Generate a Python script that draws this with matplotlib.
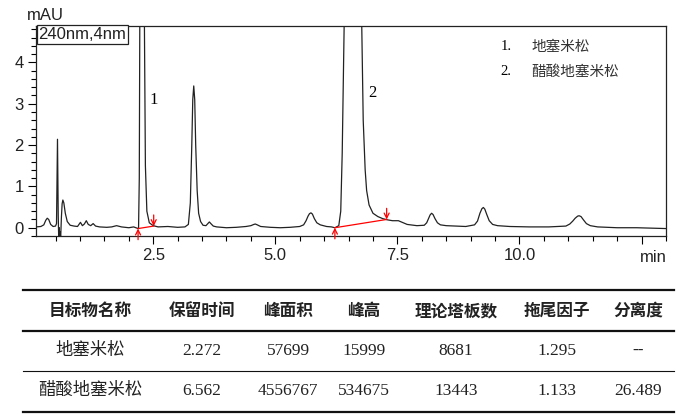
import matplotlib.pyplot as plt
from matplotlib.ticker import MultipleLocator, FixedLocator

# chromatogram trace (time in min, signal in mAU)
time_min = [0.10, 0.20, 0.26, 0.30, 0.33, 0.36, 0.40, 0.45, 0.50, 0.52, 0.54,
            0.555, 0.565, 0.575, 0.585, 0.595, 0.605, 0.615, 0.62, 0.635, 0.65,
            0.67, 0.70, 0.74, 0.80, 0.88, 0.95, 0.98, 1.01, 1.05, 1.09, 1.13,
            1.17, 1.22, 1.27, 1.32, 1.40, 1.55, 1.65, 1.75, 1.85, 2.00, 2.10,
            2.19, 2.20, 2.215, 2.225, 2.25, 2.272, 2.295, 2.32, 2.34, 2.37, 2.42,
            2.50, 2.60, 2.80, 3.00, 3.15, 3.22, 3.26, 3.29, 3.31, 3.33, 3.35,
            3.37, 3.40, 3.43, 3.47, 3.52, 3.58, 3.62, 3.65, 3.68, 3.73, 3.80,
            4.00, 4.20, 4.40, 4.50, 4.56, 4.59, 4.63, 4.70, 4.90, 5.10, 5.30,
            5.50, 5.58, 5.63, 5.67, 5.70, 5.73, 5.76, 5.80, 5.85, 5.92, 6.05,
            6.15, 6.22, 6.30, 6.34, 6.37, 6.41, 6.45, 6.50, 6.562, 6.62, 6.68,
            6.73, 6.77, 6.80, 6.84, 6.87, 6.92, 7.00, 7.10, 7.20, 7.30, 7.40,
            7.47, 7.52, 7.60, 7.70, 7.90, 8.05, 8.10, 8.14, 8.17, 8.20, 8.23,
            8.27, 8.32, 8.38, 8.50, 8.70, 8.90, 9.08, 9.14, 9.19, 9.23, 9.26,
            9.29, 9.33, 9.38, 9.45, 9.55, 9.80, 10.20, 10.60, 10.95, 11.03,
            11.09, 11.14, 11.19, 11.22, 11.26, 11.31, 11.37, 11.45, 11.60,
            12.00, 12.40, 12.70, 13.00]
signal_mau = [0.02, 0.03, 0.07, 0.18, 0.23, 0.20, 0.08, 0.03, 0.04, 0.10, 2.14,
              0.30, -0.25, 0.00, -0.25, -0.10, -0.25, 0.05, 0.25, 0.58, 0.67,
              0.60, 0.35, 0.15, 0.06, 0.04, 0.03, 0.08, 0.13, 0.05, 0.09, 0.17,
              0.08, 0.05, 0.10, 0.04, 0.02, 0.01, 0.02, 0.05, 0.02, 0.00, 0.02,
              -0.02, 0.00, 1.20, 4.90, 13.0, 16.0, 12.0, 4.90, 1.50, 0.40, 0.12,
              0.05, 0.02, 0.03, 0.01, 0.02, 0.08, 0.60, 2.00, 3.10, 3.43, 3.10,
              2.00, 0.90, 0.35, 0.15, 0.06, 0.05, 0.10, 0.14, 0.10, 0.04, 0.02,
              0.00, 0.01, 0.03, 0.05, 0.08, 0.09, 0.07, 0.03, 0.01, 0.00, 0.01,
              0.03, 0.07, 0.17, 0.28, 0.34, 0.36, 0.33, 0.22, 0.12, 0.07, 0.03,
              0.02, 0.00, 0.05, 0.40, 1.80, 4.90, 40.0, 250.0, 535.0, 300.0, 80.0,
              15.0, 4.90, 2.60, 1.40, 0.90, 0.55, 0.35, 0.27, 0.22, 0.19, 0.17,
              0.17, 0.17, 0.13, 0.08, 0.05, 0.06, 0.12, 0.23, 0.31, 0.35, 0.32,
              0.22, 0.12, 0.07, 0.05, 0.04, 0.03, 0.07, 0.16, 0.35, 0.46, 0.49,
              0.45, 0.32, 0.17, 0.08, 0.05, 0.03, 0.02, 0.02, 0.04, 0.09, 0.16,
              0.23, 0.28, 0.29, 0.27, 0.19, 0.10, 0.05, 0.02, 0.00, 0.00, -0.01,
              -0.02]

# integration baselines (start / end of each labelled peak)
base_start_t = [2.19, 6.22]
base_start_v = [-0.02, 0.00]
base_end_t = [2.51, 7.28]
base_end_v = [0.04, 0.20]

peak_labels = ['1', '2']
peak_rt = [2.272, 6.562]

compounds = ['地塞米松', '醋酸地塞米松']

# results table
headers = ['目标物名称', '保留时间', '峰面积', '峰高', '理论塔板数', '拖尾因子', '分离度']
row_1 = ['地塞米松', '2.272', '57699', '15999', '8681', '1.295', '--']
row_2 = ['醋酸地塞米松', '6.562', '4556767', '534675', '13443', '1.133', '26.489']

fig = plt.figure(figsize=(6.82, 4.18), dpi=100)
ax = fig.add_axes([36 / 682, 1 - 236 / 418, 630 / 682, 210 / 418])

ax.plot(time_min, signal_mau, color='#222222', lw=0.9)

for i in range(len(base_start_t)):
    ax.plot([base_start_t[i], base_end_t[i]], [base_start_v[i], base_end_v[i]],
            color='red', lw=0.9)
    ax.annotate('', xy=(base_start_t[i], base_start_v[i]), xytext=(0, -8),
                textcoords='offset points',
                arrowprops=dict(arrowstyle='->', color='red', lw=0.9,
                                mutation_scale=9, shrinkA=0, shrinkB=0))
    ax.annotate('', xy=(base_end_t[i], base_end_v[i]), xytext=(0, 8),
                textcoords='offset points',
                arrowprops=dict(arrowstyle='->', color='red', lw=0.9,
                                mutation_scale=9, shrinkA=0, shrinkB=0))

ax.set_xlim(0.1, 13.0)
ax.set_ylim(-0.2, 4.88)

ax.xaxis.set_major_locator(FixedLocator([2.5, 5.0, 7.5, 10.0, 12.5]))
ax.set_xticklabels(['2.5', '5.0', '7.5', '10.0', ''])
ax.xaxis.set_minor_locator(MultipleLocator(0.5))
ax.yaxis.set_major_locator(MultipleLocator(1))
ax.yaxis.set_minor_locator(MultipleLocator(0.2))
ax.tick_params(which='major', length=6, width=0.8, direction='out', pad=3,
               labelsize=12, labelcolor='#222222')
ax.tick_params(which='minor', length=3.5, width=0.8, direction='out')
for lab in ax.get_xticklabels() + ax.get_yticklabels():
    lab.set_family('Liberation Sans')
for s in ax.spines.values():
    s.set_linewidth(0.9)
    s.set_color('#222222')

fig.text(27 / 682, 1 - 15 / 418, 'mAU', ha='left', va='center', fontsize=12,
         family='Liberation Sans', color='#222222')
fig.text(667 / 682, 1 - 257 / 418, 'min', ha='right', va='center', fontsize=12,
         family='Liberation Sans', color='#222222')

ax.text(0.004, 0.995, '240nm,4nm', transform=ax.transAxes, ha='left', va='top',
        fontsize=12, family='Liberation Sans', color='#222222',
        bbox=dict(boxstyle='square,pad=0.12', fc='white', ec='#222222', lw=0.9))

label_dx = [0.235, 0.43]
label_y = [3.08, 3.25]
for i in range(len(peak_labels)):
    ax.text(peak_rt[i] + label_dx[i], label_y[i], peak_labels[i], ha='center',
            va='center', fontsize=12, family='Liberation Serif')

for i, name in enumerate(compounds):
    yy = 0.901 - i * 0.119
    ax.text(0.737, yy, f'{i + 1}.', transform=ax.transAxes, ha='left', va='center',
            fontsize=10.5, family='Liberation Serif')
    ax.text(0.787, yy, name, transform=ax.transAxes, ha='left', va='center',
            fontsize=10.5, family='Noto Sans CJK SC', color='#333333')

# table drawn in pixel coordinates
tax = fig.add_axes([0, 0, 1, 1])
tax.set_xlim(0, 682)
tax.set_ylim(418, 0)
tax.axis('off')

col_x = [90, 202, 288, 364, 456, 557, 638]
for y, lw in [(290, 1.6), (331, 1.6), (371, 0.8), (412, 1.6)]:
    tax.plot([23, 674], [y, y], color='#111111', lw=lw)

for j, h in enumerate(headers):
    tax.text(col_x[j], 311, h, ha='center', va='center', fontsize=12,
             family='Noto Sans CJK SC', weight='bold', color='#222222')
for y, row in [(351, row_1), (391, row_2)]:
    for j, val in enumerate(row):
        tax.text(col_x[j], y, val, ha='center', va='center', fontsize=12.5,
                 family=['Liberation Serif', 'Noto Sans CJK SC'], color='#222222',
                 weight='bold' if val == '--' else 'normal')

fig.savefig('out.png', dpi=100)
